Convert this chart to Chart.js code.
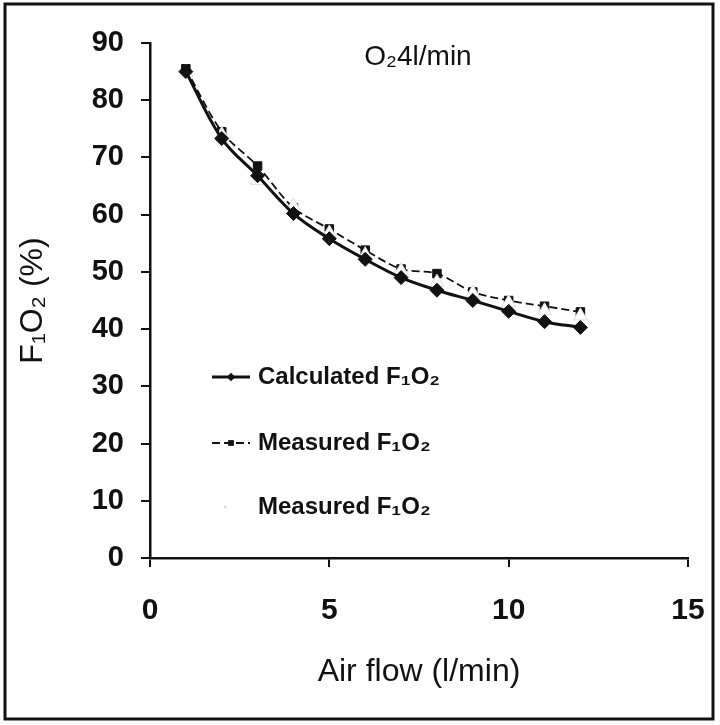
<!DOCTYPE html>
<html>
<head>
<meta charset="utf-8">
<script src="https://cdn.jsdelivr.net/npm/chart.js@4.4.1/dist/chart.umd.min.js"></script>
<style>
  html, body { margin: 0; padding: 0; background: #fff; }
  #wrap { width: 720px; height: 725px; }
</style>
</head>
<body>
<div id="wrap"><canvas id="c" width="720" height="725"></canvas></div>
<script>
const airFlow = [1, 2, 3, 4, 5, 6, 7, 8, 9, 10, 11, 12];
const calculatedFiO2 = [85.0, 73.3, 66.8, 60.2, 55.8, 52.2, 49.0, 46.8, 45.0, 43.1, 41.3, 40.3];
const measuredFiO2 = [85.5, 74.5, 68.5, 61.2, 57.5, 53.8, 50.5, 49.7, 46.5, 45.0, 44.0, 43.0];
const measuredFiO2b = [84.8, 74.0, 66.0, 61.5, 56.8, 53.0, 50.2, 48.2, 46.3, 44.6, 43.2, 42.3];
const xTicks = [0, 5, 10, 15];
const yTicks = [0, 10, 20, 30, 40, 50, 60, 70, 80, 90];
const seriesLabels = ['Calculated F\u2081O\u2082', 'Measured F\u2081O\u2082', 'Measured F\u2081O\u2082'];
const chartTitle = 'O\u20824l/min';
const xTitle = 'Air flow (l/min)';
const yTitle = 'F\u2081O\u2082 (%)';

const FONT = '"Liberation Sans", Arial, Helvetica, sans-serif';
const toPts = (ys) => airFlow.map((x, i) => ({ x: x, y: ys[i] }));

const framePlugin = {
  id: 'frame',
  beforeDraw(chart) {
    const ctx = chart.ctx;
    ctx.save();
    ctx.fillStyle = '#fff';
    ctx.fillRect(0, 0, chart.width, chart.height);
    ctx.restore();
  },
  afterDraw(chart) {
    const ctx = chart.ctx;
    ctx.save();
    ctx.strokeStyle = '#111';
    ctx.lineWidth = 3;
    ctx.strokeRect(5, 4, 708, 715);
    // title inside plot
    ctx.fillStyle = '#111';
    ctx.font = '28px ' + FONT;
    ctx.textAlign = 'center';
    ctx.textBaseline = 'middle';
    ctx.fillText(chartTitle, 418, 57);
    // legend inside plot
    const rows = [377, 443, 507];
    chart.data.datasets.forEach((ds, i) => {
      const y = rows[i];
      const x0 = 212, x1 = 250, xm = 231;
      if (ds.showLine !== false) {
        ctx.save();
        ctx.strokeStyle = ds.borderColor;
        ctx.lineWidth = ds.borderWidth;
        ctx.setLineDash(ds.borderDash || []);
        ctx.beginPath();
        ctx.moveTo(x0, y);
        ctx.lineTo(x1, y);
        ctx.stroke();
        ctx.restore();
      }
      ctx.save();
      const r = Math.max(2, ds.pointRadius * 0.6);
      ctx.beginPath();
      if (ds.pointStyle === 'rectRot') {
        ctx.fillStyle = ds.pointBackgroundColor;
        ctx.moveTo(xm, y - r); ctx.lineTo(xm + r, y); ctx.lineTo(xm, y + r); ctx.lineTo(xm - r, y);
        ctx.closePath();
        ctx.fill();
      } else if (ds.pointStyle === 'rect') {
        ctx.fillStyle = ds.pointBackgroundColor;
        ctx.rect(xm - r * 0.8, y - r * 0.8, r * 1.6, r * 1.6);
        ctx.fill();
      } else {
        ctx.fillStyle = ds.pointBorderColor;
        ctx.arc(xm - 6, y, 1.5, 0, Math.PI * 2);
        ctx.fill();
      }
      ctx.restore();
      ctx.fillStyle = '#111';
      ctx.font = 'bold 24px ' + FONT;
      ctx.textAlign = 'left';
      ctx.textBaseline = 'middle';
      ctx.fillText(ds.label, 258, y);
    });
    ctx.restore();
  }
};

new Chart(document.getElementById('c'), {
  type: 'line',
  data: {
    datasets: [
      {
        label: seriesLabels[0],
        data: toPts(calculatedFiO2),
        borderColor: '#111',
        borderWidth: 3,
        pointStyle: 'rectRot',
        pointRadius: 7,
        pointBackgroundColor: '#111',
        pointBorderColor: '#111',
        pointBorderWidth: 1,
        tension: 0.35,
        order: 0
      },
      {
        label: seriesLabels[1],
        data: toPts(measuredFiO2),
        borderColor: '#111',
        borderWidth: 1.8,
        borderDash: [8, 4],
        pointStyle: 'rect',
        pointRadius: 6,
        pointBackgroundColor: '#111',
        pointBorderColor: '#111',
        pointBorderWidth: 1,
        tension: 0.3,
        order: 2
      },
      {
        label: seriesLabels[2],
        data: toPts(measuredFiO2b),
        showLine: false,
        borderColor: '#ffffff',
        borderWidth: 0,
        pointStyle: 'triangle',
        pointRadius: 8,
        pointBackgroundColor: '#ffffff',
        pointBorderColor: '#dddddd',
        pointBorderWidth: 1,
        order: 1
      }
    ]
  },
  options: {
    responsive: false,
    animation: false,
    devicePixelRatio: 1,
    layout: { padding: { top: 43, right: 32, bottom: 0, left: 0 } },
    plugins: {
      legend: { display: false },
      tooltip: { enabled: false },
      title: { display: false }
    },
    scales: {
      x: {
        type: 'linear',
        min: 0, max: 15,
        afterBuildTicks(scale) { scale.ticks = xTicks.map(v => ({ value: v })); },
        afterFit(scale) { scale.height = 167; scale.paddingRight = 0; scale.paddingLeft = 0; },
        grid: { drawOnChartArea: false, drawTicks: true, tickLength: 9, color: '#111', lineWidth: 2 },
        border: { display: true, color: '#111', width: 2.5 },
        ticks: { color: '#111', padding: 26, font: { family: FONT, size: 30, weight: 'bold' }, maxRotation: 0 },
        title: { display: true, text: xTitle, color: '#111', font: { family: FONT, size: 32 }, padding: { top: 0, bottom: 34 } }
      },
      y: {
        type: 'linear',
        min: 0, max: 90,
        afterBuildTicks(scale) { scale.ticks = yTicks.map(v => ({ value: v })); },
        afterFit(scale) { scale.width = 150; scale.paddingTop = 0; scale.paddingBottom = 0; },
        grid: { drawOnChartArea: false, drawTicks: true, tickLength: 9, color: '#111', lineWidth: 2 },
        border: { display: true, color: '#111', width: 2.5 },
        ticks: { color: '#111', padding: 17, font: { family: FONT, size: 29, weight: 'bold' } },
        title: { display: true, text: yTitle, color: '#111', font: { family: FONT, size: 32 }, padding: { top: 14, bottom: 0 } }
      }
    }
  },
  plugins: [framePlugin]
});
</script>
</body>
</html>
